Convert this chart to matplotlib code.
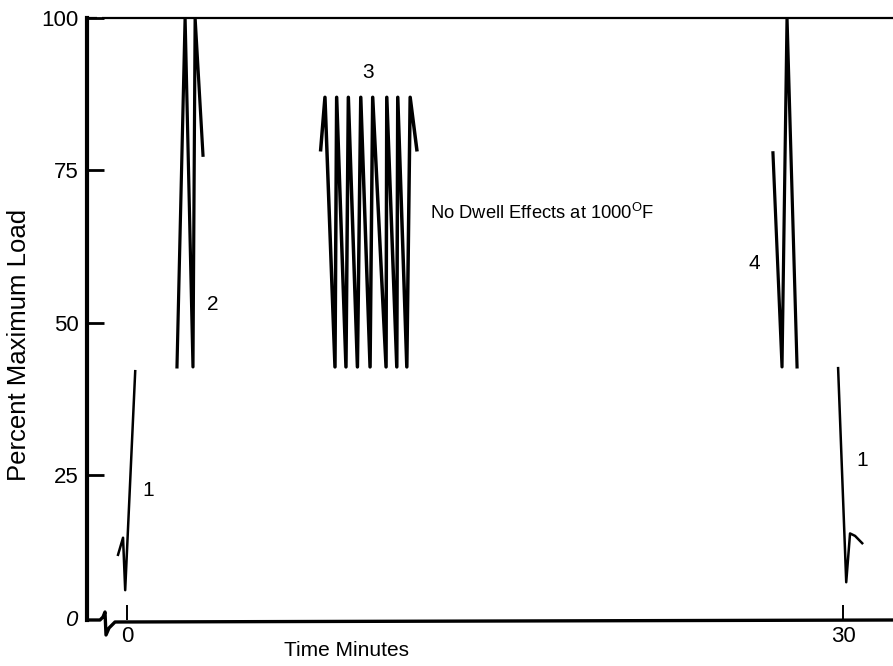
import matplotlib
matplotlib.use("Agg")
import matplotlib.pyplot as plt

plt.rcParams['font.family'] = ['Liberation Sans', 'DejaVu Sans']

# ---- data (time in minutes, load in percent of maximum) ----
b1a_t = [-0.38, -0.17, -0.08, 0.34]
b1a_l = [12.0, 14.8, 6.2, 42.1]

b2_t = [2.09, 2.43, 2.76, 2.85, 3.18]
b2_l = [42.8, 100.0, 42.8, 100.0, 77.5]

b3_t = [8.11, 8.29, 8.71, 8.78, 9.17, 9.27, 9.65, 9.79, 10.18, 10.29,
        10.85, 10.88, 11.30, 11.34, 11.72, 11.86, 12.14]
b3_l = [78.4, 87.0, 42.8, 87.0, 42.8, 87.0, 42.8, 87.0, 42.8, 87.0,
        42.8, 87.0, 42.8, 87.0, 42.8, 87.0, 78.4]

b4_t = [27.06, 27.44, 27.65, 28.07]
b4_l = [77.9, 42.8, 100.0, 42.8]

b1b_t = [29.79, 30.13, 30.29, 30.50, 30.80]
b1b_l = [42.6, 7.5, 15.5, 15.1, 13.9]

block_labels = ["1", "2", "3", "4", "1"]
label_t = [0.88, 3.6, 10.1, 26.3, 30.8]
label_l = [22.6, 53.0, 91.0, 59.8, 27.5]

x_ticks = [0, 30]
x_ticklabels = ["0", "30"]
y_ticks = [25, 50, 75, 100]
y_ticklabels = ["25", "50", "75", "100"]

fig = plt.figure(figsize=(8.93, 6.66), dpi=100)
ax = fig.add_axes([87/893, 46/666, 806/893, 602/666])
ax.set_xlim(-1.68, 32.09)
ax.set_ylim(1.31, 100)

ax.plot(b1a_t, b1a_l, color='black', lw=1.8)
ax.plot(b2_t, b2_l, color='black', lw=2.3)
ax.plot(b3_t, b3_l, color='black', lw=2.5)
ax.plot(b4_t, b4_l, color='black', lw=2.3)
ax.plot(b1b_t, b1b_l, color='black', lw=1.8)

for s, t, l in zip(block_labels, label_t, label_l):
    ax.text(t, l, s, fontsize=15, ha='center', va='center')

ax.text(12.7, 68, r'No Dwell Effects at 1000$^{\mathregular{O}}$F', fontsize=13.2,
        ha='left', va='center')

# spines
for s in ['top', 'right', 'bottom']:
    ax.spines[s].set_visible(False)
ax.spines['left'].set_linewidth(3.0)
# top border with small gap
ax.plot([0, 0.0124], [1, 1], transform=ax.transAxes, color='black', lw=1.6,
        clip_on=False, solid_capstyle='butt')
ax.plot([0.0186, 1.0], [1, 1], transform=ax.transAxes, color='black', lw=1.6,
        clip_on=False, solid_capstyle='butt')
# bottom axis with break symbol (pixel offsets from the axes corner)
bx = [87, 100, 103, 105, 106, 109, 115, 893]
by = [620, 620, 617, 612, 635, 628, 622, 620]
ax.plot([(x - 87) / 806 for x in bx], [(620 - y) / 602 for y in by],
        transform=ax.transAxes, color='black', lw=2.4, clip_on=False)

ax.set_xticks(x_ticks)
ax.set_xticklabels(x_ticklabels)
ax.set_yticks(y_ticks)
ax.set_yticklabels(y_ticklabels)
ax.tick_params(axis='x', direction='in', length=11, width=1.4, labelsize=16, pad=4)
ax.tick_params(axis='y', direction='in', length=12, width=2.0, labelsize=16, pad=6)
ax.text(-0.012, 0.0, '0', transform=ax.transAxes, fontsize=16, style='italic',
        ha='right', va='center')

ax.set_ylabel('Percent Maximum Load', fontsize=18.5)
ax.set_xlabel('Time Minutes', fontsize=15)
ax.xaxis.label.set_va('center')
ax.yaxis.label.set_va('center')
ax.xaxis.set_label_coords((346 - 87) / 806, (620 - 651) / 602)
ax.yaxis.set_label_coords((19 - 87) / 806, (620 - 345) / 602)

fig.savefig('out.png', dpi=100)
